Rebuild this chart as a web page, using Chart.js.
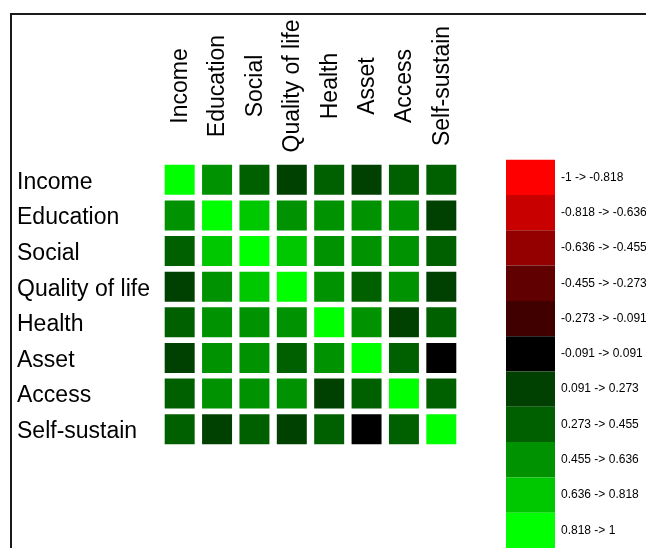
<!DOCTYPE html>
<html lang="en">
<head>
    <meta charset="UTF-8">
    <title>Correlation Heatmap</title>
    <script src="https://cdn.jsdelivr.net/npm/chart.js"></script>
    <style>
        body {
            margin: 0;
            padding: 0;
            background: #fff;
            overflow: hidden;
        }
        .frame {
            position: absolute;
            left: 10px;
            top: 13px;
            width: 700px;
            height: 600px;
            border: 2px solid #1a1a1a;
            pointer-events: none;
        }
        #heatmap {
            position: absolute;
            left: 0;
            top: 0;
        }
    </style>
</head>
<body>
    <canvas id="heatmap" width="646" height="548"></canvas>
    <div class="frame"></div>
    <script>
        const variables = ['Income', 'Education', 'Social', 'Quality of life', 'Health', 'Asset', 'Access', 'Self-sustain'];

        // correlation matrix, rows in the same order as variables
        const incomeRow    = [1.00, 0.55, 0.38, 0.21, 0.40, 0.18, 0.36, 0.39];
        const educationRow = [0.55, 1.00, 0.71, 0.57, 0.52, 0.54, 0.56, 0.20];
        const socialRow    = [0.38, 0.71, 1.00, 0.73, 0.58, 0.53, 0.55, 0.35];
        const qualityRow   = [0.21, 0.57, 0.73, 1.00, 0.56, 0.41, 0.52, 0.17];
        const healthRow    = [0.40, 0.52, 0.58, 0.56, 1.00, 0.57, 0.22, 0.37];
        const assetRow     = [0.18, 0.54, 0.53, 0.41, 0.57, 1.00, 0.34, 0.04];
        const accessRow    = [0.36, 0.56, 0.55, 0.52, 0.22, 0.34, 1.00, 0.42];
        const sustainRow   = [0.39, 0.20, 0.35, 0.17, 0.37, 0.04, 0.42, 1.00];
        const matrix = [incomeRow, educationRow, socialRow, qualityRow, healthRow, assetRow, accessRow, sustainRow];

        // colour scale
        const binEdges = [-1, -0.818, -0.636, -0.455, -0.273, -0.091, 0.091, 0.273, 0.455, 0.636, 0.818, 1];
        const binLabels = ['-1 -> -0.818', '-0.818 -> -0.636', '-0.636 -> -0.455', '-0.455 -> -0.273', '-0.273 -> -0.091',
                           '-0.091 -> 0.091', '0.091 -> 0.273', '0.273 -> 0.455', '0.455 -> 0.636', '0.636 -> 0.818', '0.818 -> 1'];
        const binColors = ['#ff0000', '#c80000', '#940000', '#600000', '#400000',
                           '#000000', '#004000', '#006000', '#009200', '#00c800', '#00ff00'];

        function binOf(v) {
            for (let b = 0; b < binLabels.length - 1; b++) {
                if (v < binEdges[b + 1]) return b;
            }
            return binLabels.length - 1;
        }

        // one dataset per colour bin, so the legend shows the colour scale
        const datasets = binLabels.map((label, b) => ({
            label: label,
            data: [],
            backgroundColor: binColors[b],
            borderColor: binColors[b],
            borderWidth: 0,
            pointStyle: 'rect',
            pointRadius: 21.2,
            pointHoverRadius: 21.2
        }));
        matrix.forEach((row, r) => {
            row.forEach((v, c) => {
                datasets[binOf(v)].data.push({ x: variables[c], y: variables[r], v: v });
            });
        });

        const fontFamily = "'Liberation Sans', Arial, sans-serif";

        // column headers, rotated and centred like the original
        const columnHeaders = {
            id: 'columnHeaders',
            afterDraw(chart) {
                const ctx = chart.ctx;
                const xs = chart.scales.x;
                ctx.save();
                ctx.font = '23px ' + fontFamily;
                ctx.fillStyle = '#000';
                ctx.textAlign = 'center';
                ctx.textBaseline = 'middle';
                variables.forEach((name, i) => {
                    ctx.save();
                    ctx.translate(xs.getPixelForValue(i) + 1, 86);
                    ctx.rotate(-Math.PI / 2);
                    ctx.fillText(name, 0, 0);
                    ctx.restore();
                });
                ctx.restore();
            }
        };

        const hidden = {
            display: true,
            grid: { display: false },
            border: { display: false },
            ticks: { display: false }
        };

        new Chart(document.getElementById('heatmap'), {
            type: 'scatter',
            data: { datasets: datasets },
            options: {
                responsive: false,
                animation: false,
                events: [],
                layout: { padding: { left: 17, top: 0, right: 0, bottom: 0 } },
                scales: {
                    x: Object.assign({}, hidden, {
                        type: 'category',
                        labels: variables,
                        position: 'top',
                        offset: true,
                        afterFit: s => { s.height = 162; }
                    }),
                    xb: Object.assign({}, hidden, {
                        type: 'category',
                        labels: variables,
                        position: 'bottom',
                        offset: true,
                        afterFit: s => { s.height = 101; }
                    }),
                    y: {
                        type: 'category',
                        labels: variables,
                        position: 'left',
                        offset: true,
                        grid: { display: false },
                        border: { display: false },
                        ticks: {
                            crossAlign: 'far',
                            labelOffset: 2.5,
                            color: '#000',
                            font: { family: fontFamily, size: 23 }
                        },
                        afterFit: s => { s.width = 144; }
                    },
                    yr: Object.assign({}, hidden, {
                        type: 'category',
                        labels: variables,
                        position: 'right',
                        afterFit: s => { s.width = 46; }
                    })
                },
                plugins: {
                    tooltip: { enabled: false },
                    legend: {
                        position: 'right',
                        align: 'end',
                        maxWidth: 140,
                        labels: {
                            boxWidth: 49,
                            boxHeight: 35.3,
                            padding: 0,
                            color: '#000',
                            font: { family: fontFamily, size: 12 }
                        }
                    }
                }
            },
            plugins: [columnHeaders]
        });
    </script>
</body>
</html>
